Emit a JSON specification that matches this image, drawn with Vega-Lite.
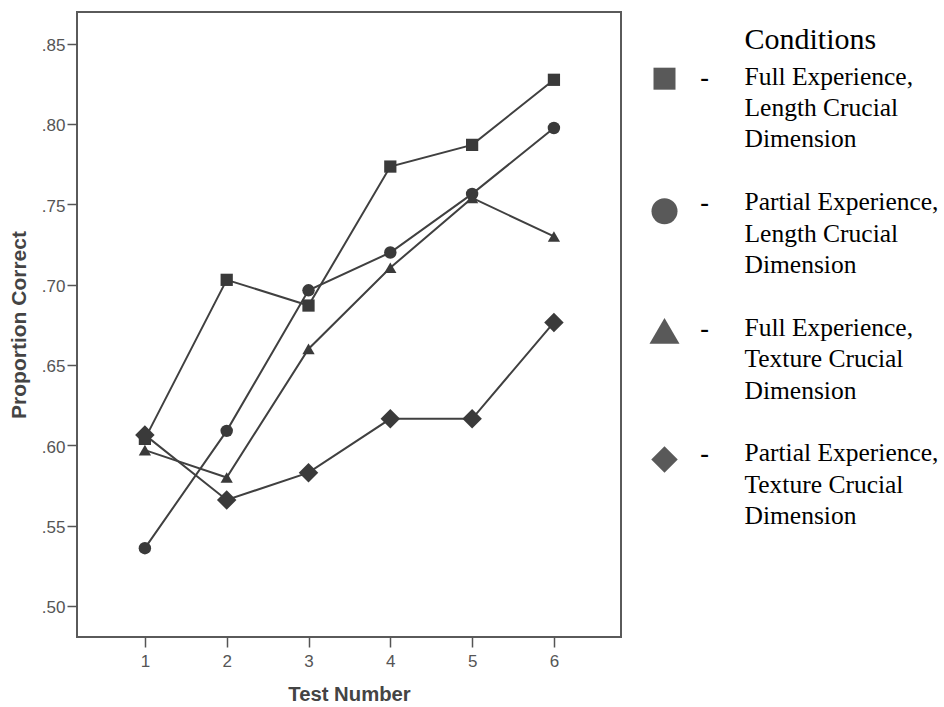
{
  "$schema": "https://vega.github.io/schema/vega-lite/v6.json",
  "padding": {"left": 7, "top": 11, "right": 0, "bottom": 0},
  "background": "white",
  "spacing": 20,
  "datasets": {
    "points": [
      {"test": 1, "condition": "Full Experience, Length Crucial Dimension", "value": 0.604},
      {"test": 2, "condition": "Full Experience, Length Crucial Dimension", "value": 0.703},
      {"test": 3, "condition": "Full Experience, Length Crucial Dimension", "value": 0.687},
      {"test": 4, "condition": "Full Experience, Length Crucial Dimension", "value": 0.7735},
      {"test": 5, "condition": "Full Experience, Length Crucial Dimension", "value": 0.787},
      {"test": 6, "condition": "Full Experience, Length Crucial Dimension", "value": 0.8275},
      {"test": 1, "condition": "Partial Experience, Length Crucial Dimension", "value": 0.536},
      {"test": 2, "condition": "Partial Experience, Length Crucial Dimension", "value": 0.609},
      {"test": 3, "condition": "Partial Experience, Length Crucial Dimension", "value": 0.6965},
      {"test": 4, "condition": "Partial Experience, Length Crucial Dimension", "value": 0.72},
      {"test": 5, "condition": "Partial Experience, Length Crucial Dimension", "value": 0.7565},
      {"test": 6, "condition": "Partial Experience, Length Crucial Dimension", "value": 0.7975},
      {"test": 1, "condition": "Full Experience, Texture Crucial Dimension", "value": 0.597},
      {"test": 2, "condition": "Full Experience, Texture Crucial Dimension", "value": 0.58},
      {"test": 3, "condition": "Full Experience, Texture Crucial Dimension", "value": 0.66},
      {"test": 4, "condition": "Full Experience, Texture Crucial Dimension", "value": 0.7105},
      {"test": 5, "condition": "Full Experience, Texture Crucial Dimension", "value": 0.754},
      {"test": 6, "condition": "Full Experience, Texture Crucial Dimension", "value": 0.73},
      {"test": 1, "condition": "Partial Experience, Texture Crucial Dimension", "value": 0.6065},
      {"test": 2, "condition": "Partial Experience, Texture Crucial Dimension", "value": 0.566},
      {"test": 3, "condition": "Partial Experience, Texture Crucial Dimension", "value": 0.583},
      {"test": 4, "condition": "Partial Experience, Texture Crucial Dimension", "value": 0.6165},
      {"test": 5, "condition": "Partial Experience, Texture Crucial Dimension", "value": 0.6165},
      {"test": 6, "condition": "Partial Experience, Texture Crucial Dimension", "value": 0.6765}
    ],
    "legendSymbols": [
      {"condition": "Full Experience, Length Crucial Dimension", "line": 1, "col": 0},
      {"condition": "Partial Experience, Length Crucial Dimension", "line": 5, "col": 0},
      {"condition": "Full Experience, Texture Crucial Dimension", "line": 9, "col": 0},
      {"condition": "Partial Experience, Texture Crucial Dimension", "line": 13, "col": 0}
    ],
    "legendDashes": [
      {"line": 1, "col": 1, "text": "-"},
      {"line": 5, "col": 1, "text": "-"},
      {"line": 9, "col": 1, "text": "-"},
      {"line": 13, "col": 1, "text": "-"}
    ],
    "legendTitle": [
      {"line": 0, "col": 2, "text": "Conditions"}
    ],
    "legendText": [
      {"line": 1, "col": 2, "text": "Full Experience,"},
      {"line": 2, "col": 2, "text": "Length Crucial"},
      {"line": 3, "col": 2, "text": "Dimension"},
      {"line": 5, "col": 2, "text": "Partial Experience,"},
      {"line": 6, "col": 2, "text": "Length Crucial"},
      {"line": 7, "col": 2, "text": "Dimension"},
      {"line": 9, "col": 2, "text": "Full Experience,"},
      {"line": 10, "col": 2, "text": "Texture Crucial"},
      {"line": 11, "col": 2, "text": "Dimension"},
      {"line": 13, "col": 2, "text": "Partial Experience,"},
      {"line": 14, "col": 2, "text": "Texture Crucial"},
      {"line": 15, "col": 2, "text": "Dimension"}
    ]
  },
  "resolve": {"scale": {"x": "independent", "y": "independent"}},
  "hconcat": [
    {
      "width": 544,
      "height": 625,
      "view": {"stroke": "#5a5a5a", "strokeWidth": 2},
      "data": {"name": "points"},
      "encoding": {
        "x": {
          "field": "test", "type": "quantitative",
          "scale": {"domain": [0.17, 6.82], "nice": false, "zero": false},
          "axis": {
            "title": "Test Number", "values": [1, 2, 3, 4, 5, 6], "format": "d",
            "domain": false, "grid": false, "tickColor": "#555", "tickWidth": 1.5, "tickSize": 10,
            "labelFont": "Liberation Sans", "labelFontSize": 17, "labelColor": "#555", "labelPadding": 6,
            "titleFont": "Liberation Sans", "titleFontSize": 20.3, "titleFontWeight": "bold", "titleColor": "#444", "titlePadding": 15
          }
        },
        "y": {
          "field": "value", "type": "quantitative",
          "scale": {"domain": [0.4807, 0.8697], "nice": false, "zero": false},
          "axis": {
            "title": "Proportion Correct", "values": [0.5, 0.55, 0.6, 0.65, 0.7, 0.75, 0.8, 0.85],
            "labelExpr": "replace(format(datum.value, '.2f'), '0.', '.')",
            "domain": false, "grid": false, "tickColor": "#555", "tickWidth": 1.5, "tickSize": 10,
            "labelFont": "Liberation Sans", "labelFontSize": 17, "labelColor": "#555", "labelPadding": 2, "labelOffset": 2,
            "titleFont": "Liberation Sans", "titleFontSize": 21, "titleFontWeight": "bold", "titleColor": "#444", "titlePadding": 12
          }
        }
      },
      "layer": [
        {
          "mark": {"type": "line", "color": "#404040", "strokeWidth": 2},
          "encoding": {"detail": {"field": "condition", "type": "nominal"}}
        },
        {
          "transform": [{"filter": "datum.condition === 'Full Experience, Length Crucial Dimension'"}],
          "mark": {"type": "point", "shape": "square", "size": 150, "filled": true, "fill": "#3a3a3a", "opacity": 1, "strokeWidth": 0}
        },
        {
          "transform": [{"filter": "datum.condition === 'Partial Experience, Length Crucial Dimension'"}],
          "mark": {"type": "point", "shape": "circle", "size": 155, "filled": true, "fill": "#3a3a3a", "opacity": 1, "strokeWidth": 0}
        },
        {
          "transform": [{"filter": "datum.condition === 'Full Experience, Texture Crucial Dimension'"}],
          "mark": {"type": "point", "shape": "triangle-up", "size": 150, "filled": true, "fill": "#3a3a3a", "opacity": 1, "strokeWidth": 0}
        },
        {
          "transform": [{"filter": "datum.condition === 'Partial Experience, Texture Crucial Dimension'"}],
          "mark": {"type": "point", "shape": "diamond", "size": 380, "filled": true, "fill": "#3a3a3a", "opacity": 1, "strokeWidth": 0}
        }
      ]
    },
    {
      "width": 300,
      "height": 625,
      "view": {"stroke": null},
      "encoding": {
        "x": {"field": "col", "type": "quantitative", "scale": {"domain": [-0.5625, 6.9375], "nice": false, "zero": false}, "axis": null},
        "y": {"field": "line", "type": "quantitative", "scale": {"domain": [-1.315, 18.59], "nice": false, "zero": false, "reverse": true}, "axis": null}
      },
      "layer": [
        {
          "data": {"name": "legendSymbols"},
          "transform": [{"filter": "datum.condition === 'Full Experience, Length Crucial Dimension'"}],
          "mark": {"type": "point", "shape": "square", "size": 484, "filled": true, "fill": "#595959", "opacity": 1, "strokeWidth": 0, "yOffset": -6}
        },
        {
          "data": {"name": "legendSymbols"},
          "transform": [{"filter": "datum.condition === 'Partial Experience, Length Crucial Dimension'"}],
          "mark": {"type": "point", "shape": "circle", "size": 676, "filled": true, "fill": "#595959", "opacity": 1, "strokeWidth": 0, "yOffset": 1}
        },
        {
          "data": {"name": "legendSymbols"},
          "transform": [{"filter": "datum.condition === 'Full Experience, Texture Crucial Dimension'"}],
          "mark": {"type": "point", "shape": "triangle-up", "size": 900, "filled": true, "fill": "#595959", "opacity": 1, "strokeWidth": 0, "yOffset": -5}
        },
        {
          "data": {"name": "legendSymbols"},
          "transform": [{"filter": "datum.condition === 'Partial Experience, Texture Crucial Dimension'"}],
          "mark": {"type": "point", "shape": "diamond", "size": 700, "filled": true, "fill": "#595959", "opacity": 1, "strokeWidth": 0, "yOffset": -2}
        },
        {
          "data": {"name": "legendDashes"},
          "mark": {"type": "text", "font": "Liberation Serif", "fontSize": 26, "fontWeight": "bold", "color": "#000", "align": "center", "baseline": "alphabetic", "dy": 1},
          "encoding": {"text": {"field": "text"}}
        },
        {
          "data": {"name": "legendTitle"},
          "mark": {"type": "text", "font": "Liberation Serif", "fontSize": 30, "color": "#000", "align": "left", "baseline": "alphabetic", "dy": -4},
          "encoding": {"text": {"field": "text"}}
        },
        {
          "data": {"name": "legendText"},
          "mark": {"type": "text", "font": "Liberation Serif", "fontSize": 25.5, "color": "#000", "align": "left", "baseline": "alphabetic", "dx": 0},
          "encoding": {"text": {"field": "text"}}
        }
      ]
    }
  ]
}
